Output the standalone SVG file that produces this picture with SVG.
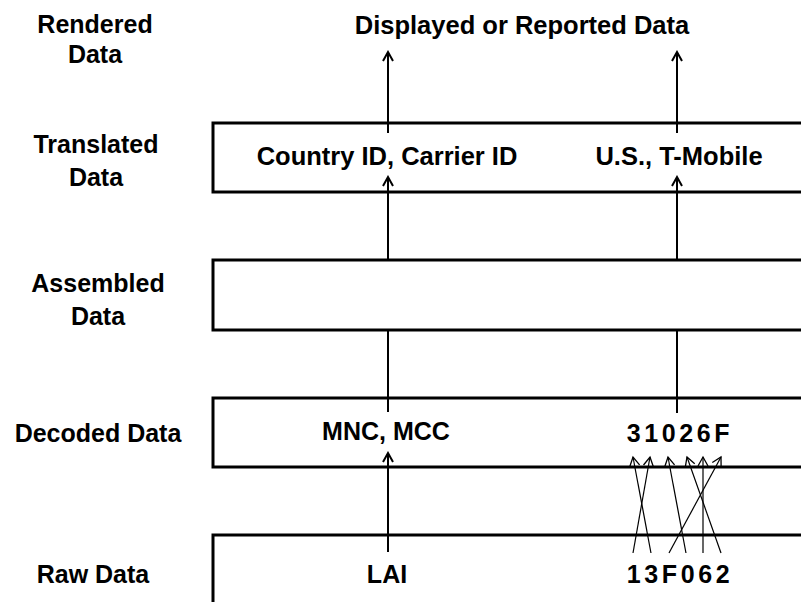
<svg xmlns="http://www.w3.org/2000/svg" width="801" height="602" viewBox="0 0 801 602">
<defs>
<style>
.lbl{font-family:"Liberation Sans",Arial,sans-serif;font-weight:bold;font-size:25px;fill:#000;text-anchor:middle}
.big{font-size:25.5px}
.box{fill:#fff;stroke:#000;stroke-width:3}
.main{stroke:#000;stroke-width:2;fill:none}
.thin{stroke:#000;stroke-width:1.2;fill:none}
.code{letter-spacing:3.6px}
</style>
<marker id="ah" markerUnits="userSpaceOnUse" viewBox="-12 -7 14 14" refX="0" refY="0" markerWidth="14" markerHeight="14" orient="auto">
<path d="M-9,-5 L0,0 L-9,5" fill="none" stroke="#000" stroke-width="2"/>
</marker>
<marker id="aht" markerUnits="userSpaceOnUse" viewBox="-12 -7 14 14" refX="0" refY="0" markerWidth="14" markerHeight="14" orient="auto">
<path d="M-9,-5 L0,0 L-9,5" fill="none" stroke="#000" stroke-width="1.3"/>
</marker>
</defs>
<rect width="801" height="602" fill="#fff"/>

<g id="row-labels">
<text class="lbl" x="95" y="33">Rendered</text>
<text class="lbl" x="95" y="63">Data</text>
<text class="lbl" x="96" y="153">Translated</text>
<text class="lbl" x="96" y="186">Data</text>
<text class="lbl" x="98" y="292">Assembled</text>
<text class="lbl" x="98" y="325">Data</text>
<text class="lbl" x="98" y="442">Decoded Data</text>
<text class="lbl" x="93" y="583">Raw Data</text>
</g>

<g id="rendered">
<text class="lbl big" x="522" y="34">Displayed or Reported Data</text>
</g>

<g id="translated">
<rect class="box" x="213" y="123" width="600" height="69"/>
<text class="lbl big" x="387" y="165">Country ID, Carrier ID</text>
<text class="lbl big" x="679" y="165">U.S., T-Mobile</text>
</g>

<g id="assembled">
<rect class="box" x="213" y="260" width="600" height="70"/>
</g>

<g id="decoded">
<rect class="box" x="213" y="398" width="600" height="69"/>
<text class="lbl" x="386" y="440">MNC, MCC</text>
<text class="lbl code" x="680" y="442">31026F</text>
</g>

<g id="raw">
<rect class="box" x="213" y="535" width="600" height="80"/>
<text class="lbl" x="387" y="583">LAI</text>
<text class="lbl code" x="680" y="583">13F062</text>
</g>

<g id="connectors">
<line class="main" x1="388" y1="133" x2="388" y2="52" marker-end="url(#ah)"/>
<line class="main" x1="677" y1="133" x2="677" y2="52" marker-end="url(#ah)"/>
<line class="main" x1="388" y1="260" x2="388" y2="177" marker-end="url(#ah)"/>
<line class="main" x1="677" y1="260" x2="677" y2="177" marker-end="url(#ah)"/>
<line class="main" x1="388" y1="412" x2="388" y2="330"/>
<line class="main" x1="677" y1="413" x2="677" y2="330"/>
<line class="main" x1="388" y1="552" x2="388" y2="453" marker-end="url(#ah)"/>
<line class="thin" x1="633" y1="553" x2="650" y2="457" marker-end="url(#aht)"/>
<line class="thin" x1="651" y1="553" x2="633" y2="457" marker-end="url(#aht)"/>
<line class="thin" x1="669" y1="553" x2="721" y2="457" marker-end="url(#aht)"/>
<line class="thin" x1="686" y1="553" x2="668" y2="457" marker-end="url(#aht)"/>
<line class="thin" x1="703" y1="553" x2="703" y2="457" marker-end="url(#aht)"/>
<line class="thin" x1="721" y1="553" x2="687" y2="457" marker-end="url(#aht)"/>
</g>
</svg>
